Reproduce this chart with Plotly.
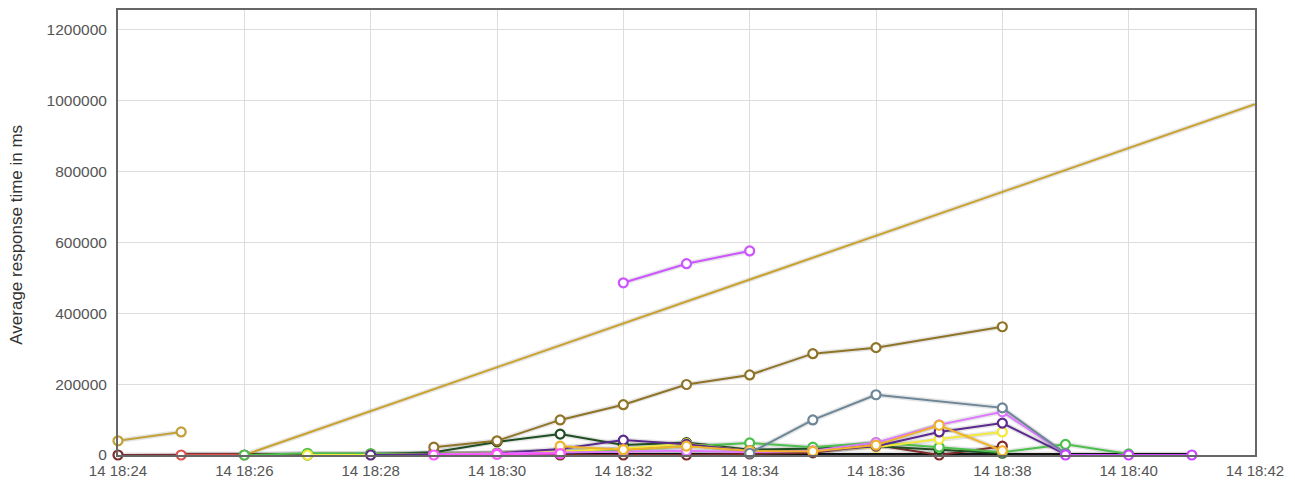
import plotly.graph_objects as go

DAY = "2024-01-14 "

gold_early_t = ["18:24", "18:25"]
gold_early_v = [40000, 65000]

trend_t = ["18:26", "18:42"]
trend_v = [0, 990000]

olive_t = ["18:29", "18:30", "18:31", "18:32", "18:33", "18:34", "18:35", "18:36", "18:38"]
olive_v = [22000, 40000, 99000, 142000, 199000, 226000, 286000, 303000, 362000]

magenta_t = ["18:32", "18:33", "18:34"]
magenta_v = [486000, 540000, 576000]

dkgreen_t = ["18:27", "18:28", "18:29", "18:30", "18:31", "18:32", "18:33", "18:34", "18:35", "18:36", "18:37", "18:38"]
dkgreen_v = [0, 2000, 8000, 37000, 59000, 28000, 35000, 15000, 18000, 25000, 15000, 5000]

slate_t = ["18:34", "18:35", "18:36", "18:38", "18:39"]
slate_v = [5000, 99000, 170000, 133000, 4000]

purple_t = ["18:28", "18:29", "18:30", "18:31", "18:32", "18:33", "18:34", "18:35", "18:36", "18:37", "18:38", "18:39"]
purple_v = [0, 2000, 5000, 17000, 42000, 30000, 12000, 10000, 25000, 65000, 90000, 2000]

ltmag_t = ["18:29", "18:30", "18:31", "18:32", "18:33", "18:34", "18:35", "18:36", "18:37", "18:38", "18:39"]
ltmag_v = [2000, 4000, 8000, 10000, 12000, 8000, 12000, 35000, 85000, 122000, 3000]

yellow_t = ["18:27", "18:28", "18:29", "18:30", "18:31", "18:32", "18:33", "18:34", "18:35", "18:36", "18:37", "18:38"]
yellow_v = [0, 0, 3000, 6000, 10000, 18000, 32000, 11000, 12000, 22000, 45000, 65000]

orange_t = ["18:31", "18:32", "18:33", "18:34", "18:35", "18:36", "18:37", "18:38"]
orange_v = [25000, 15000, 25000, 12000, 10000, 28000, 84000, 12000]

green_t = ["18:26", "18:27", "18:28", "18:29", "18:30", "18:31", "18:32", "18:33", "18:34", "18:35", "18:36", "18:37", "18:38", "18:39", "18:40"]
green_v = [0, 5000, 4000, 3000, 6000, 10000, 15000, 25000, 34000, 22000, 35000, 22000, 8000, 30000, 3000]

maroon_t = ["18:24", "18:30", "18:31", "18:32", "18:33", "18:34", "18:35", "18:36", "18:37", "18:38"]
maroon_v = [0, 3000, 0, 0, 0, 3000, 6000, 28000, 0, 25000]

red_t = ["18:25", "18:26"]
red_v = [0, 0]

black_t = ["18:25", "18:26", "18:27", "18:28", "18:29", "18:30", "18:31", "18:32", "18:33", "18:34",
           "18:35", "18:36", "18:37", "18:38", "18:39", "18:40", "18:41"]
black_v = [0] * len(black_t)

violet_t = ["18:29", "18:30", "18:31"]
violet_v = [0, 2000, 4000]

violet2_t = ["18:39", "18:40", "18:41"]
violet2_v = [0, 0, 0]

Y_TICKS = [0, 200000, 400000, 600000, 800000, 1000000, 1200000]
Y_TITLE = "Average response time in ms"

series = [
    ("black", black_t, black_v, "#111111", False, 4),
    ("trend", trend_t, trend_v, "#c9a22e", False, 2),
    ("maroon", maroon_t, maroon_v, "#7e2b2b", True, 2),
    ("red", red_t, red_v, "#d9534f", True, 3),
    ("dkgreen", dkgreen_t, dkgreen_v, "#1e4d22", True, 2),
    ("green", green_t, green_v, "#4cbf4c", True, 2),
    ("yellow", yellow_t, yellow_v, "#f3e83c", True, 2),
    ("purple", purple_t, purple_v, "#5b2a8e", True, 2),
    ("ltmag", ltmag_t, ltmag_v, "#dd77ff", True, 2),
    ("orange", orange_t, orange_v, "#f0b22a", True, 2),
    ("slate", slate_t, slate_v, "#6c8698", True, 2),
    ("olive", olive_t, olive_v, "#8f7428", True, 2),
    ("gold", gold_early_t, gold_early_v, "#c2a03a", True, 2),
    ("magenta", magenta_t, magenta_v, "#cc55ff", True, 2),
    ("violet", violet_t, violet_v, "#ff55ff", True, 2),
    ("violet2", violet2_t, violet2_v, "#c845ff", True, 2),
]

fig = go.Figure()
# soft shadows under every line (jqPlot-like look)
for name, t, v, col, mk, w in series:
    fig.add_trace(go.Scatter(
        x=[DAY + s for s in t], y=v, mode="lines",
        line=dict(color="rgba(0,0,0,0.10)", width=w + 3),
        connectgaps=True, cliponaxis=False, showlegend=False, hoverinfo="skip",
    ))
for name, t, v, col, mk, w in series:
    fig.add_trace(go.Scatter(
        x=[DAY + s for s in t], y=v, name=name,
        mode="lines+markers" if mk else "lines",
        line=dict(color=col, width=w),
        marker=dict(size=9, color="white", line=dict(color=col, width=2.2)),
        connectgaps=True, cliponaxis=False, showlegend=False,
    ))

# page body adds an 8px offset; the figure is sized to fill the rest
W, H = 1287, 473
L, R, T, B = 110, 40, 2, 26
fig.update_layout(
    width=W, height=H,
    margin=dict(l=L, r=R, t=T, b=B, autoexpand=False),
    paper_bgcolor="white", plot_bgcolor="white",
    font=dict(family="Liberation Sans, Arial, sans-serif", size=15, color="#555555"),
)
fig.update_xaxes(
    type="date", range=[DAY + "18:24", DAY + "18:42"],
    dtick=120000, tick0=DAY + "18:24", tickformat="%d %H:%M",
    showgrid=True, gridcolor="#dddddd", gridwidth=1,
    showline=True, linecolor="#666666", linewidth=2, mirror=True,
    ticks="", zeroline=False, automargin=False, ticklabelstandoff=1,
    tickfont=dict(size=15, color="#555555"),
)
fig.update_yaxes(
    range=[0, 1256000], tickvals=Y_TICKS, ticktext=[str(t) for t in Y_TICKS],
    showgrid=True, gridcolor="#dddddd", gridwidth=1,
    showline=True, linecolor="#666666", linewidth=2, mirror=True,
    ticks="", zeroline=False, automargin=False, ticklabelstandoff=6,
    tickfont=dict(size=15.5, color="#555555"),
)
fig.add_annotation(
    text=Y_TITLE, textangle=-90, showarrow=False,
    xref="paper", yref="paper", xanchor="center", yanchor="middle",
    x=(9 - L) / (W - L - R), y=0.495,
    font=dict(size=17, color="#333333"),
)

fig.write_html("out.html")
